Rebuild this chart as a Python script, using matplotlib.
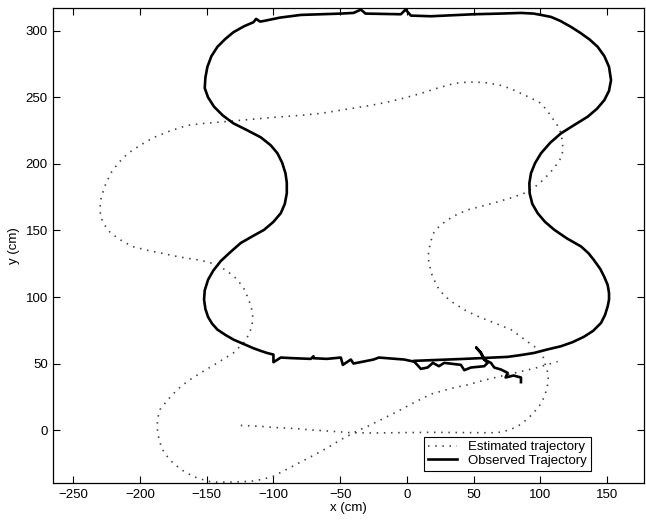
import numpy as np
import matplotlib.pyplot as plt

plt.rcParams['font.family'] = ['Liberation Sans', 'DejaVu Sans']

# estimated trajectory (dotted)
est_x = [-124.5, -110, -100, -85, -70, -55, -42, -25, -10, 5, 18, 30, 45, 58,
         65, 71, 78, 84, 90, 95, 99.5, 103, 105, 106, 105.5, 104, 102.5, 100.5,
         96, 91, 85, 78, 67, 55.5, 44.5, 35, 28, 23, 19, 16.5, 16, 16.5, 18, 20,
         24.5, 30.5, 37.5, 45.5, 57, 68, 78, 88, 95, 100.5, 107, 113, 116, 117,
         116.5, 115.5, 113.5, 110, 105.5, 100.5, 93, 85.5, 78, 70.5, 60, 50, 43,
         35.5, 23, 10.5, -2, -14.5, -27, -39.5, -52, -64.5, -80, -100, -120,
         -139.5, -152, -164.5, -177, -189.5, -200, -209, -216, -222, -226.5,
         -229.5, -230, -229.5, -226.5, -222, -214, -206, -194, -182, -170, -157,
         -149, -142, -134, -127, -122, -118.5, -116.5, -115.5, -116, -118, -122,
         -130, -142, -154.5, -164, -172, -179, -185, -187, -187, -185.5, -182,
         -176.5, -169.5, -160, -149, -142, -130, -117, -108, -100, -90, -79.5,
         -69, -59, -50, -44.5, -37, -29, -18, -7, 5, 18, 32, 45.5, 58, 70.5,
         85.5, 96, 103, 108, 113]
est_y = [3.5, 2.8, 2, 1.2, 0, -1, -2, -2.2, -2, -1.8, -1.7, -1.8, -2, -2,
         -2, -1.5, 0.5, 3.5, 8, 13, 18.5, 25, 31.5, 38, 43.5, 48, 54, 59,
         62.5, 66, 70.5, 75.5, 80, 84.5, 89.5, 95.5, 101, 107.5, 116, 125.5,
         130.5, 135.5, 142, 148, 153.5, 158, 162, 165.5, 168.5, 171.5, 174.5,
         178, 182, 186.5, 193, 200.5, 205.5, 211, 217, 223, 228, 233, 239.5,
         245.6, 249.5, 253, 256.5, 259, 261, 261.6, 261.3, 260.5, 257, 253,
         249.5, 246.5, 244, 242, 240, 238, 236.5, 235, 233.2, 231.5, 230.5,
         229, 225, 220, 214, 208, 201, 193, 183, 173, 166.5, 160, 154, 148,
         142.5, 138, 135, 132.5, 130, 128, 126.3, 124, 119, 113, 106, 98, 91.5,
         85, 79, 72.5, 66, 58, 50.5, 43, 37, 30.5, 23, 15.5, 8, 0.5, -8.5, -17,
         -23.5, -29.5, -35, -38.5, -39.2, -39, -38.5, -37, -34.7, -29.5, -24,
         -18.5, -13, -7.5, -4.5, -0.5, 3, 8.5, 14, 20.5, 27, 31, 34, 37.5, 40.5,
         44, 46.5, 48.5, 50, 51.5]

# observed trajectory (solid)
obs_x = [5, -2, -21, -25, -40, -42, -48, -49.5, -60, -70, -70, -72, -85,
         -94.5, -100, -100, -105, -109.5, -115, -122, -130, -136, -142, -146,
         -149, -151, -152, -151.5, -149, -145, -139.5, -132, -124.5, -116, -107,
         -100, -94.5, -91.5, -90, -90, -91, -93.5, -97, -102, -109.5, -120, -130,
         -138, -144.5, -149, -151.5, -151, -149.5, -146.5, -142, -136, -130, -122,
         -115, -113, -110, -107, -95, -79.5, -64.5, -49.5, -40, -34.5, -31, -20,
         -4.5, -1, 3, 18, 35, 50, 70, 85.5, 95, 100.5, 108, 115, 123, 130, 137,
         143, 148, 151.5, 153, 151.5, 148, 142.5, 135.5, 125, 115.5, 107.5, 100.5,
         96, 93, 91.8, 92, 94, 98, 103.5, 110.5, 120, 130.5, 136, 140, 145, 148,
         150.5, 151.5, 151.5, 150.5, 148.5, 145.5, 139.5, 132.5, 124, 115.5, 105,
         95.5, 85, 75.5, 65, 55.5, 43, 30.5, 5,
         10.5, 15.5, 19.5, 24, 28, 40.5, 43, 48, 58, 60.5, 58, 55.5, 52, 55.5,
         58, 63, 65.5, 70.5, 75.5, 74, 80, 85.5, 85.5]
obs_y = [51.5, 53, 54.5, 53, 50, 53, 49, 54.5, 53.5, 54, 55.5, 53.5, 54,
         54.5, 51, 56.7, 58, 59.5, 61.5, 64.5, 68, 71.5, 75.5, 80,
         85, 91, 98, 105, 113, 120, 127, 134, 140.6, 145.5, 150.5,
         156.5, 163, 170, 178, 186, 193, 201, 208, 214, 220, 225.5, 230.5,
         236.5, 243, 250, 257, 265, 273, 281, 288, 294, 299, 303.5,
         306.5, 309, 307, 307.5, 310, 312, 312.5, 313, 313.5, 316, 313, 312.8,
         312.5, 316, 311.5, 311, 311.8, 312.5, 313, 313.5, 313, 312, 310.5, 307.5,
         303, 298.5, 293.5, 288, 281, 273, 263, 255, 248, 241.5, 235.5, 229, 223,
         216, 208, 200.5, 193, 185.5, 178, 170, 163, 156.5, 150.5, 144, 138, 133,
         128, 121, 115, 109, 103, 98, 93, 86.5, 80.5, 74.5, 70, 66, 63, 60.5,
         58, 56.3, 55, 54.5, 54, 53.5, 53, 52,
         46, 47, 50.5, 48, 50.5, 49, 45, 47, 48, 50.5, 53, 58, 62, 58,
         53, 50.5, 47, 45.5, 43, 39.5, 41, 39.5, 36]

x_ticks = [-250, -200, -150, -100, -50, 0, 50, 100, 150]
y_ticks = [0, 50, 100, 150, 200, 250, 300]

fig = plt.figure(figsize=(6.46, 5.2), dpi=100)
ax = fig.add_axes([0.0825, 0.0706, 0.915, 0.9135])

ax.plot(est_x, est_y, color='0.25', lw=1.2, linestyle=(0, (0.9, 3.4)),
        label='Estimated trajectory')
ax.plot(obs_x, obs_y, color='black', lw=1.9, solid_joinstyle='round',
        label='Observed Trajectory')

ax.set_xlim(-265, 178)
ax.set_ylim(-40, 317)
ax.set_xticks(x_ticks)
ax.set_yticks(y_ticks)
ax.set_xticklabels([str(v).replace('-', '\u2212') for v in x_ticks])
ax.tick_params(direction='in', top=True, right=True, length=5, width=0.8,
               labelsize=9.5, pad=4)
for s in ax.spines.values():
    s.set_linewidth(0.9)

ax.set_xlabel('x (cm)', fontsize=9.5, labelpad=1)
ax.set_ylabel('y (cm)', fontsize=9.5, labelpad=4)

leg = ax.legend(loc='lower right', bbox_to_anchor=(0.909, 0.026),
                fontsize=9.5, handlelength=2.2, borderaxespad=0,
                fancybox=False, framealpha=1, borderpad=0.3,
                labelspacing=0.12, handletextpad=0.8)
leg.get_frame().set_edgecolor('black')
leg.get_frame().set_linewidth(0.8)

fig.savefig('out.png', dpi=100)
